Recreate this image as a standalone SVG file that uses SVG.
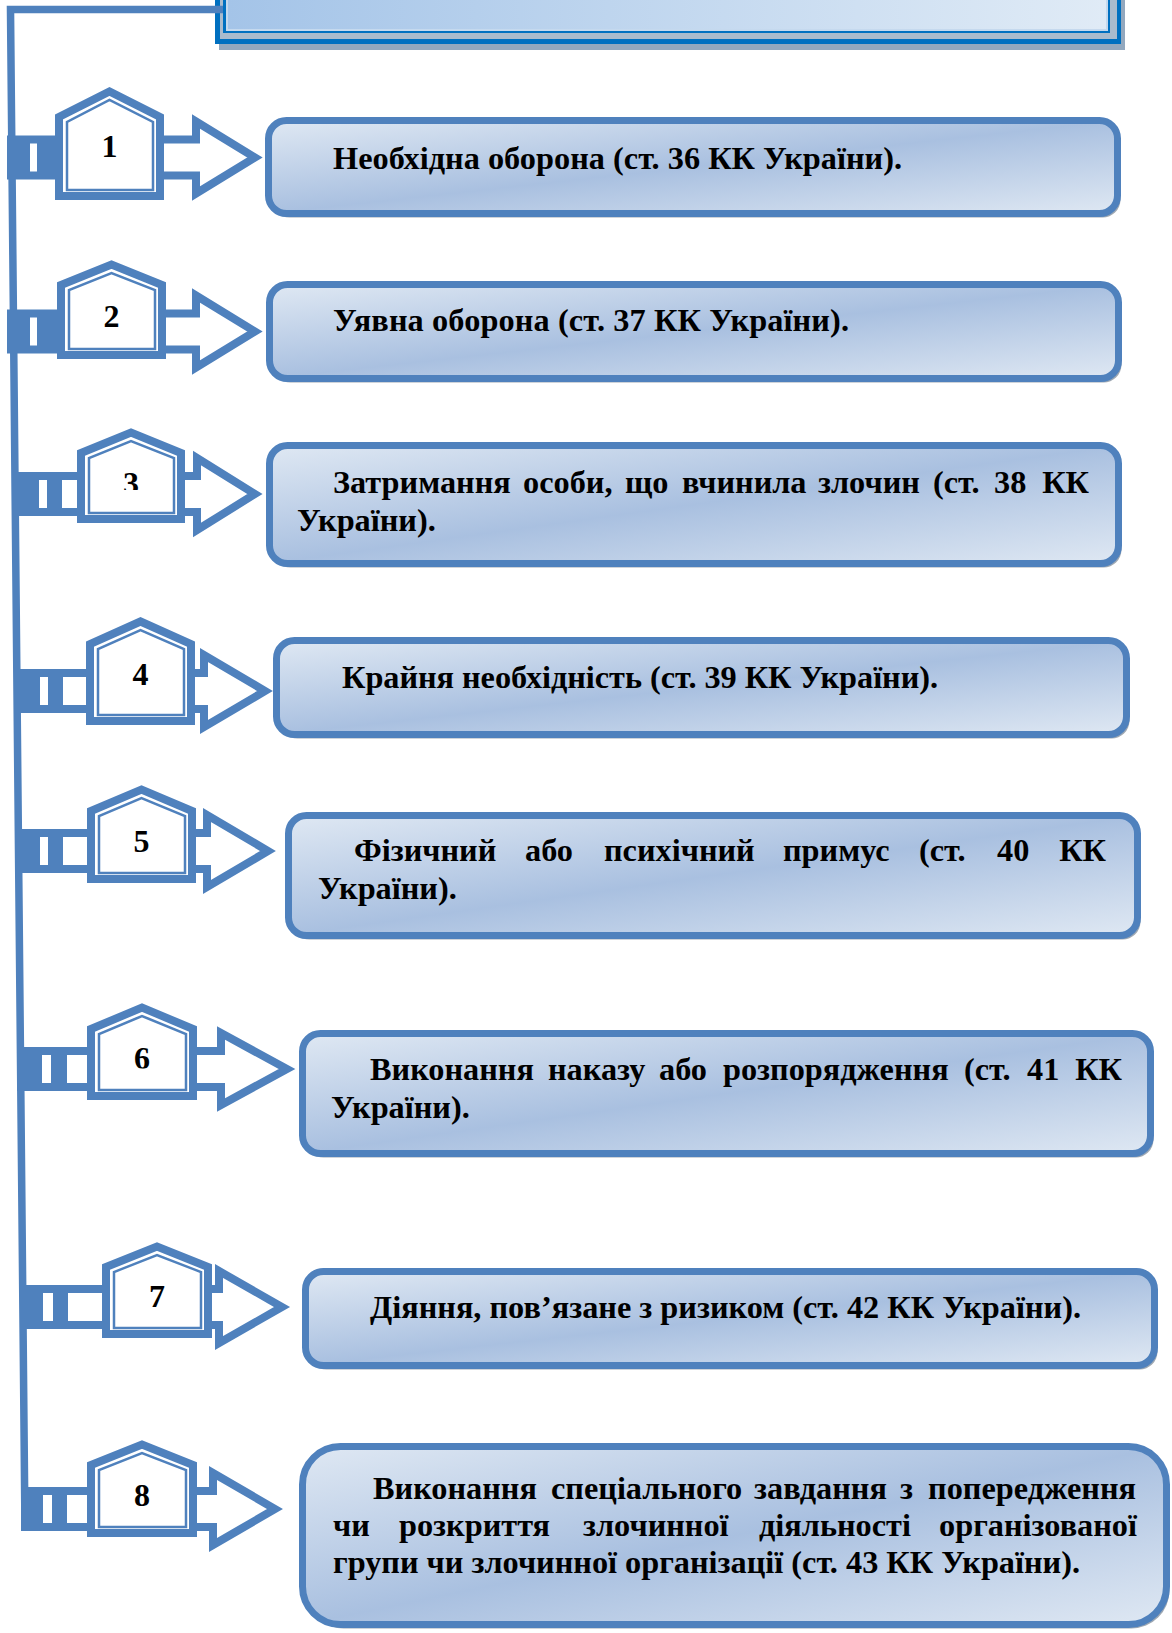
<svg xmlns="http://www.w3.org/2000/svg" width="1172" height="1633" viewBox="0 0 1172 1633">
<style>
.conn{fill:none;stroke:#4f81bd;stroke-width:7.5;stroke-linejoin:miter}
.arr{fill:#fff;stroke:#4f81bd;stroke-width:8;stroke-linejoin:miter}
.blk{fill:#4f81bd}
.win{fill:#fff}
.hs{fill:#fff;stroke:#4f81bd;stroke-width:8;stroke-linejoin:miter}
.hi{fill:none;stroke:#4f81bd;stroke-width:2.5}
.box{fill:url(#gb);stroke:#4f81bd;stroke-width:7}
.sh{fill:#9ea8b3}
.t{font-family:"Liberation Serif","Times New Roman",serif;font-weight:bold;font-size:32.3px;fill:#000}
.n{font-family:"Liberation Serif","Times New Roman",serif;font-weight:bold;font-size:32px;fill:#000;text-anchor:middle}
.e{text-anchor:end}
</style>
<defs>
<linearGradient id="gb" x1="0" y1="0" x2="1" y2="1">
<stop offset="0" stop-color="#dfe8f3"/>
<stop offset="0.5" stop-color="#a9c0e0"/>
<stop offset="1" stop-color="#dfe8f3"/>
</linearGradient>
<linearGradient id="gf" x1="0" y1="0" x2="1" y2="0">
<stop offset="0" stop-color="#a4c4e8"/>
<stop offset="1" stop-color="#e0ebf6"/>
</linearGradient>
<clipPath id="c3"><rect x="90" y="440" width="90" height="50"/></clipPath>
<clipPath id="c6"><rect x="100" y="1020" width="90" height="48.5"/></clipPath>
</defs>

<g id="title">
<rect x="219" y="-10" width="906" height="60" fill="#93a8be"/>
<rect x="215" y="-10" width="906" height="54" fill="#0070c0"/>
<rect x="220" y="-10" width="897" height="49" fill="#a9bbcd"/>
<rect x="223" y="-10" width="887" height="43" fill="#0070c0"/>
<rect x="226" y="-10" width="882" height="41" fill="#c5d9ee"/>
<rect x="228" y="-10" width="878" height="39" fill="url(#gf)"/>
</g>

<g id="connectors">
<path class="conn" d="M223 9.5 H10.5 L25 1531"/>
</g>

<g id="item1">
<path class="arr" d="M55 139.5 H196 V121.5 L255 157.5 L196 193.5 V175.5 H55"/>
<rect class="blk" x="7" y="135.5" width="50" height="44"/>
<rect class="win" x="30" y="143.5" width="7" height="28"/>
<polygon class="hs" points="59,196 59,117 109.5,91.5 160,117 160,196"/>
<polygon class="hi" points="67,190 67,122 109.5,100 153,122 153,190"/>
<text class="n" x="109.5" y="157">1</text>
</g>

<g id="item2">
<path class="arr" d="M57 313.5 H196 V295.5 L255 331.5 L196 367.5 V349.5 H57"/>
<rect class="blk" x="7" y="309.5" width="52" height="44"/>
<rect class="win" x="30" y="317.5" width="7" height="28"/>
<polygon class="hs" points="61,355 61,285 111.5,264.5 162,285 162,355"/>
<polygon class="hi" points="69,349 69,290 111.5,273 155,290 155,349"/>
<text class="n" x="111.5" y="327">2</text>
</g>

<g id="item3">
<path class="arr" d="M62 476 H197 V458 L255 494 L197 530 V512 H62"/>
<rect class="blk" x="12" y="472" width="50" height="44"/>
<rect class="win" x="39" y="480" width="8" height="28"/>
<polygon class="hs" points="81,519 81,453 131,432.5 181,453 181,519"/>
<polygon class="hi" points="89,513 89,458 131,441 174,458 174,513"/>
<text class="n" x="131" y="494" clip-path="url(#c3)">3</text>
</g>

<g id="item4">
<path class="arr" d="M63 673 H204 V655 L265 691 L204 727 V709 H63"/>
<rect class="blk" x="15" y="669" width="48" height="44"/>
<rect class="win" x="40" y="677" width="8" height="28"/>
<polygon class="hs" points="90,721 90,644 140.5,621.5 191,644 191,721"/>
<polygon class="hi" points="98,715 98,649 140.5,630 184,649 184,715"/>
<text class="n" x="140.5" y="685">4</text>
</g>

<g id="item5">
<path class="arr" d="M63 833 H207 V815 L268 851 L207 887 V869 H63"/>
<rect class="blk" x="17" y="829" width="46" height="44"/>
<rect class="win" x="40" y="837" width="8" height="28"/>
<polygon class="hs" points="91,879 91,811 141.5,789.5 192,811 192,879"/>
<polygon class="hi" points="99,873 99,816 141.5,798 185,816 185,873"/>
<text class="n" x="141.5" y="852">5</text>
</g>

<g id="item6">
<path class="arr" d="M67 1051 H221 V1033 L287 1069 L221 1105 V1087 H67"/>
<rect class="blk" x="17" y="1047" width="50" height="44"/>
<rect class="win" x="42" y="1055" width="9" height="28"/>
<polygon class="hs" points="91,1096 91,1029 142,1007.5 193,1029 193,1096"/>
<polygon class="hi" points="99,1090 99,1034 142,1016 186,1034 186,1090"/>
<text class="n" x="142" y="1069" clip-path="url(#c6)">6</text>
</g>

<g id="item7">
<path class="arr" d="M68 1289 H219 V1271 L282 1307 L219 1343 V1325 H68"/>
<rect class="blk" x="20" y="1285" width="48" height="44"/>
<rect class="win" x="43" y="1293" width="10" height="28"/>
<polygon class="hs" points="106,1334 106,1267 157,1246.5 208,1267 208,1334"/>
<polygon class="hi" points="114,1328 114,1272 157,1255 201,1272 201,1328"/>
<text class="n" x="157" y="1307">7</text>
</g>

<g id="item8">
<path class="arr" d="M67 1491 H213 V1473 L275 1509 L213 1545 V1527 H67"/>
<rect class="blk" x="21" y="1487" width="46" height="44"/>
<rect class="win" x="43" y="1495" width="9" height="28"/>
<polygon class="hs" points="91,1533 91,1465 142,1444.5 193,1465 193,1533"/>
<polygon class="hi" points="99,1527 99,1470 142,1453 186,1470 186,1527"/>
<text class="n" x="142" y="1506">8</text>
</g>

<g id="box1">
<rect class="sh" x="271.5" y="124.5" width="849" height="93" rx="18"/>
<rect class="box" x="268.5" y="120.5" width="849" height="93" rx="18"/>
<text class="t" x="333" y="169" textLength="569">Необхідна оборона (ст. 36 КК України).</text>
</g>

<g id="box2">
<rect class="sh" x="272.5" y="288.5" width="849" height="94" rx="18"/>
<rect class="box" x="269.5" y="284.5" width="849" height="94" rx="18"/>
<text class="t" x="333" y="331" textLength="516">Уявна оборона (ст. 37 КК України).</text>
</g>

<g id="box3">
<rect class="sh" x="272.5" y="449.5" width="849" height="118" rx="18"/>
<rect class="box" x="269.5" y="445.5" width="849" height="118" rx="18"/>
<text class="t" y="493"><tspan x="333">Затримання</tspan><tspan x="523">особи,</tspan><tspan x="625">що</tspan><tspan x="682">вчинила</tspan><tspan x="818">злочин</tspan><tspan x="933">(ст.</tspan><tspan x="994">38</tspan><tspan x="1089" class="e">КК</tspan></text>
<text class="t" x="297" y="531">України).</text>
</g>

<g id="box4">
<rect class="sh" x="279.5" y="644.5" width="850" height="94" rx="18"/>
<rect class="box" x="276.5" y="640.5" width="850" height="94" rx="18"/>
<text class="t" x="342" y="688" textLength="596">Крайня необхідність (ст. 39 КК України).</text>
</g>

<g id="box5">
<rect class="sh" x="291.5" y="819.5" width="849" height="120" rx="18"/>
<rect class="box" x="288.5" y="815.5" width="849" height="120" rx="18"/>
<text class="t" y="861"><tspan x="354">Фізичний</tspan><tspan x="525">або</tspan><tspan x="604">психічний</tspan><tspan x="783">примус</tspan><tspan x="919">(ст.</tspan><tspan x="997">40</tspan><tspan x="1106" class="e">КК</tspan></text>
<text class="t" x="318" y="899">України).</text>
</g>

<g id="box6">
<rect class="sh" x="305.5" y="1037.5" width="848" height="120" rx="18"/>
<rect class="box" x="302.5" y="1033.5" width="848" height="120" rx="18"/>
<text class="t" y="1080"><tspan x="370">Виконання</tspan><tspan x="548">наказу</tspan><tspan x="659">або</tspan><tspan x="723">розпорядження</tspan><tspan x="964">(ст.</tspan><tspan x="1027">41</tspan><tspan x="1122" class="e">КК</tspan></text>
<text class="t" x="331" y="1118">України).</text>
</g>

<g id="box7">
<rect class="sh" x="308.5" y="1275.5" width="849" height="94" rx="18"/>
<rect class="box" x="305.5" y="1271.5" width="849" height="94" rx="18"/>
<text class="t" x="370" y="1318" textLength="711">Діяння, пов’язане з ризиком (ст. 42 КК України).</text>
</g>

<g id="box8">
<rect class="sh" x="305.5" y="1450.5" width="864" height="178" rx="38"/>
<rect class="box" x="302.5" y="1446.5" width="864" height="178" rx="38"/>
<text class="t" y="1499"><tspan x="373">Виконання</tspan><tspan x="551">спеціального</tspan><tspan x="754">завдання</tspan><tspan x="900">з</tspan><tspan x="1136" class="e">попередження</tspan></text>
<text class="t" y="1536"><tspan x="333">чи</tspan><tspan x="399">розкриття</tspan><tspan x="583">злочинної</tspan><tspan x="759">діяльності</tspan><tspan x="1137" class="e">організованої</tspan></text>
<text class="t" x="333" y="1573" textLength="747">групи чи злочинної організації (ст. 43 КК України).</text>
</g>
</svg>
